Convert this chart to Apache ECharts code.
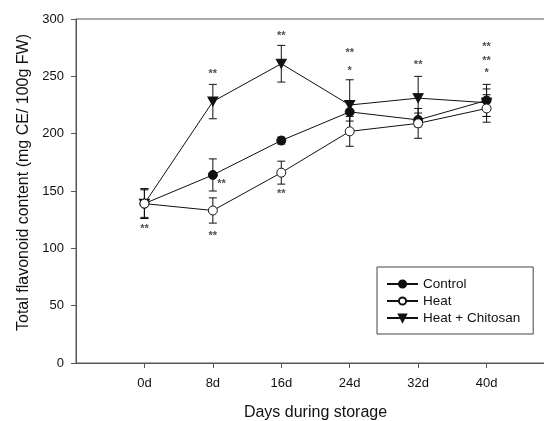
<!DOCTYPE html>
<html>
<head>
<meta charset="utf-8">
<script src="https://cdn.jsdelivr.net/npm/echarts@6/dist/echarts.min.js"></script>
<style>
  html, body { margin: 0; padding: 0; background: #fff; }
  #main { width: 544px; height: 421px; }
</style>
</head>
<body>
<div id="main"></div>
<script>
// 数据
var days = [0, 8, 16, 24, 32, 40]
var control = [139, 164, 194, 219, 212, 229]
var controlErr = [13, 14, 3, 8, 6, 14]
var heat = [139, 133, 166, 202, 209, 222]
var heatErr = [12, 11, 10, 13, 13, 12]
var chitosan = [139, 228, 261, 225, 231, 227]
var chitosanErr = [13, 15, 16, 22, 19, 12]
var yTicks = [0, 50, 100, 150, 200, 250, 300]

// 显著性标记 (x, y, 文本)
var starX = [0, 8, 9, 8, 16, 16, 24, 24, 32, 40, 40, 40]
var starY = [117, 252, 156, 111, 285, 147, 270, 255, 260, 276, 263, 253]
var starText = ['**', '**', '**', '**', '**', '**', '**', '*', '**', '**', '**', '*']

var font = 'Liberation Sans, Arial, sans-serif'
var ink = '#111'
var axisColor = '#555'

function pairs(ys) {
    return days.map(function (d, i) { return [d, ys[i]] })
}
function errData(ys, es) {
    return days.map(function (d, i) { return [d, ys[i] - es[i], ys[i] + es[i]] })
}
// 误差线
function errSeries(ys, es) {
    return {
        type: 'custom',
        silent: true,
        z: 1,
        data: errData(ys, es),
        renderItem: function (params, api) {
            var top = api.coord([api.value(0), api.value(2)])
            var bot = api.coord([api.value(0), api.value(1)])
            var w = 4
            var st = { stroke: ink, lineWidth: 1 }
            return {
                type: 'group',
                children: [
                    { type: 'line', shape: { x1: top[0], y1: top[1], x2: bot[0], y2: bot[1] }, style: st },
                    { type: 'line', shape: { x1: top[0] - w, y1: top[1], x2: top[0] + w, y2: top[1] }, style: st },
                    { type: 'line', shape: { x1: bot[0] - w, y1: bot[1], x2: bot[0] + w, y2: bot[1] }, style: st }
                ]
            }
        }
    }
}

var ele = echarts.init(document.getElementById('main'))
var option = {
    animation: false,
    backgroundColor: '#fff',
    textStyle: { fontFamily: font },
    grid: {
        left: 76, top: 19, right: -11, bottom: 58,
        show: true, borderColor: axisColor, borderWidth: 1,
        containLabel: false, outerBoundsMode: 'none'
    },
    legend: {
        left: 377, top: 267,
        orient: 'vertical',
        padding: [10, 13, 9, 9],
        itemWidth: 31, itemHeight: 9, itemGap: 3,
        backgroundColor: '#fff',
        borderColor: '#444', borderWidth: 1, borderRadius: 0,
        textStyle: { fontSize: 13.5, color: '#111', fontFamily: font },
        data: ['Control', 'Heat', 'Heat + Chitosan']
    },
    xAxis: {
        type: 'value',
        min: -8, max: 48, interval: 8,
        name: 'Days during storage',
        nameLocation: 'middle',
        nameGap: 42,
        nameTextStyle: { fontSize: 16, color: '#111', fontFamily: font },
        axisLine: { show: true, onZero: false, lineStyle: { color: axisColor } },
        axisTick: { show: true, length: 5, customValues: days, lineStyle: { color: axisColor } },
        axisLabel: {
            margin: 14, fontSize: 13, color: '#111', fontFamily: font,
            customValues: days,
            formatter: function (v) { return v + 'd' }
        },
        splitLine: { show: false }
    },
    yAxis: {
        type: 'value',
        min: 0, max: 300, interval: 50,
        name: 'Total flavonoid content (mg CE/ 100g FW)',
        nameLocation: 'middle',
        nameGap: 42,
        nameRotate: 90,
        nameTextStyle: { fontSize: 16, color: '#111', fontFamily: font, padding: [0, 0, 0, 17] },
        axisLine: { show: true, onZero: false, lineStyle: { color: axisColor } },
        axisTick: { show: true, length: 5, customValues: yTicks, lineStyle: { color: axisColor } },
        axisLabel: {
            margin: 12, fontSize: 13, color: '#111', fontFamily: font,
            customValues: yTicks
        },
        splitLine: { show: false }
    },
    series: [
        errSeries(control, controlErr),
        errSeries(heat, heatErr),
        errSeries(chitosan, chitosanErr),
        {
            name: 'Control',
            type: 'line',
            z: 3,
            data: pairs(control),
            symbol: 'circle',
            symbolSize: 9,
            lineStyle: { color: ink, width: 1 },
            itemStyle: { color: ink, borderColor: ink, borderWidth: 1 }
        },
        {
            name: 'Heat',
            type: 'line',
            z: 4,
            data: pairs(heat),
            symbol: 'circle',
            symbolSize: 9,
            lineStyle: { color: ink, width: 1 },
            itemStyle: { color: '#fff', borderColor: ink, borderWidth: 1 }
        },
        {
            name: 'Heat + Chitosan',
            type: 'line',
            z: 2,
            data: pairs(chitosan),
            symbol: 'path://M0 0L10 0L5 8.66Z',
            symbolSize: [10, 9],
            lineStyle: { color: ink, width: 1 },
            itemStyle: { color: ink, borderColor: ink, borderWidth: 1 }
        },
        {
            type: 'scatter',
            silent: true,
            z: 5,
            symbolSize: 1,
            itemStyle: { color: 'transparent' },
            data: starX.map(function (x, i) { return [x, starY[i], starText[i]] }),
            label: {
                show: true,
                position: 'inside',
                fontSize: 11,
                fontWeight: 'bold',
                color: '#222',
                fontFamily: font,
                formatter: function (p) { return p.value[2] }
            }
        }
    ]
}
ele.setOption(option)
</script>
</body>
</html>
